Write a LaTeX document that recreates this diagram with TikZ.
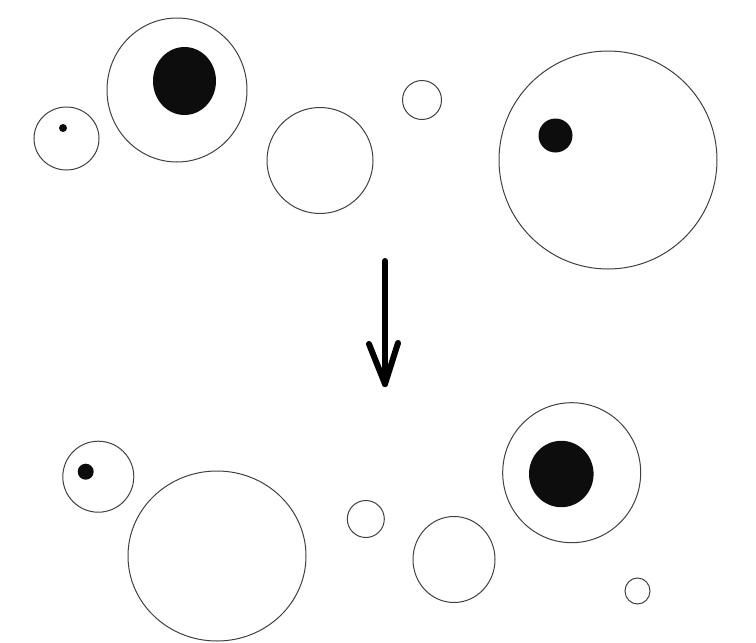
\documentclass[tikz,border=0pt]{standalone}
\begin{document}
\begin{tikzpicture}[x=1pt,y=-1pt,
  ring/.style={draw=black!75,line width=1pt},
  blob/.style={fill=black!95},
  bigarrow/.style={draw=black,line width=6pt,line cap=round,line join=round}]
\useasboundingbox (0,0) rectangle (756,643);
% top row
\draw[ring] (66.5,138.5) ellipse (32.5 and 31.5);
\fill[blob] (63,128) circle (4);
\draw[ring] (177,90) ellipse (70 and 72);
\fill[blob] (184.5,81) ellipse (31.5 and 34);
\draw[ring] (320,160.5) circle (53);
\draw[ring] (422,100) circle (19.5);
\draw[ring] (608,160) circle (109);
\fill[blob] (555.5,135.5) circle (17);
% arrow
\coordinate (atop) at (385,261);
\coordinate (atip) at (385,384);
\coordinate (wl) at (369,344);
\coordinate (wr) at (398,343);
\draw[bigarrow] (atop) -- (atip);
\draw[bigarrow] (wl) -- (atip) -- (wr);
% bottom row
\draw[ring] (98.3,476.7) circle (35.5);
\fill[blob] (85.7,471.7) circle (8);
\draw[ring] (217,556) ellipse (89 and 85);
\draw[ring] (365.8,519) circle (18.5);
\draw[ring] (454,559.5) ellipse (41 and 43);
\draw[ring] (571.7,472.7) ellipse (69 and 70);
\fill[blob] (561.3,474) ellipse (32.3 and 33.2);
\draw[ring] (637.5,591) ellipse (12.5 and 13);
\end{tikzpicture}
\end{document}
